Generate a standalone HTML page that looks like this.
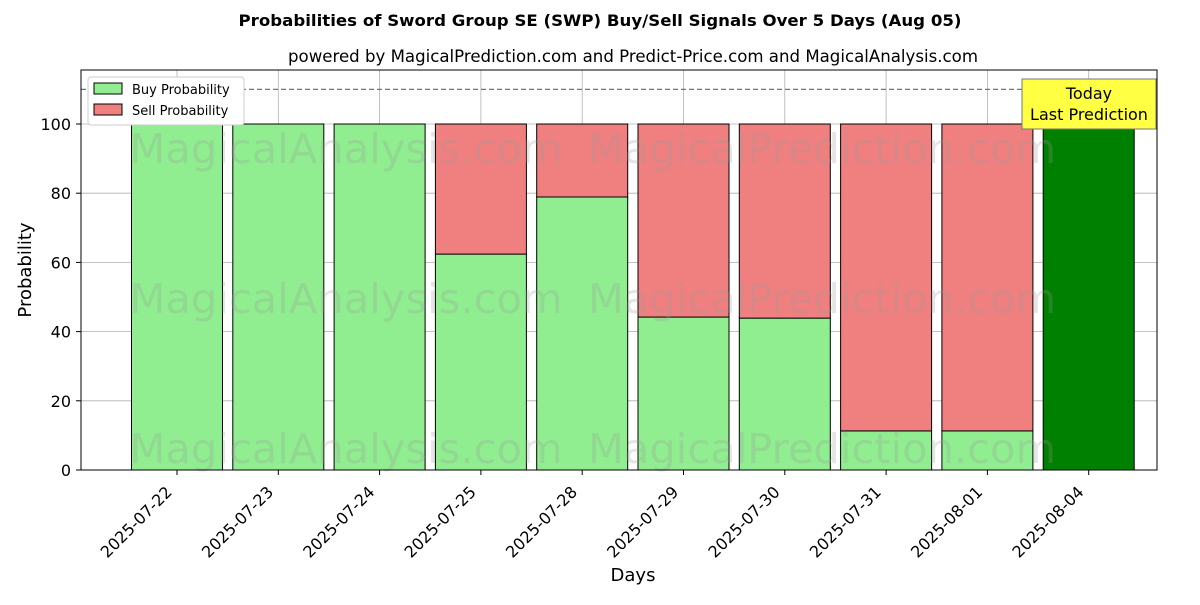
<!DOCTYPE html>
<html><head><meta charset="utf-8"><style>
body{margin:0;background:#fff;font-family:"Liberation Sans","DejaVu Sans",sans-serif;}
</style></head><body>
<svg id="chart" width="1200" height="600" xmlns="http://www.w3.org/2000/svg" font-family="DejaVu Sans, Liberation Sans, sans-serif">
<rect width="1200" height="600" fill="#fff"/>
<text x="600" y="26" text-anchor="middle" font-size="16" font-weight="bold" textLength="723" lengthAdjust="spacingAndGlyphs">Probabilities of Sword Group SE (SWP) Buy/Sell Signals Over 5 Days (Aug 05)</text>
<text x="633" y="62" text-anchor="middle" font-size="16.5" textLength="690" lengthAdjust="spacingAndGlyphs">powered by MagicalPrediction.com and Predict-Price.com and MagicalAnalysis.com</text>
<g id="grid"></g>
<g id="bars"></g>
<g id="wm" font-size="41" fill="#999" opacity="0.25">
<text x="346" y="163" text-anchor="middle" textLength="433" lengthAdjust="spacingAndGlyphs">MagicalAnalysis.com</text>
<text x="822" y="163" text-anchor="middle" textLength="468" lengthAdjust="spacingAndGlyphs">MagicalPrediction.com</text>
<text x="346" y="313" text-anchor="middle" textLength="433" lengthAdjust="spacingAndGlyphs">MagicalAnalysis.com</text>
<text x="822" y="313" text-anchor="middle" textLength="468" lengthAdjust="spacingAndGlyphs">MagicalPrediction.com</text>
<text x="346" y="463" text-anchor="middle" textLength="433" lengthAdjust="spacingAndGlyphs">MagicalAnalysis.com</text>
<text x="822" y="463" text-anchor="middle" textLength="468" lengthAdjust="spacingAndGlyphs">MagicalPrediction.com</text>
</g>
<line id="thr" x1="81" x2="1157" stroke="#777" stroke-dasharray="5,3" stroke-width="1.2"/>
<rect x="81" y="70" width="1076" height="400" fill="none" stroke="#000" stroke-width="1"/>
<g id="axes"></g>
<text x="633" y="581" text-anchor="middle" font-size="18">Days</text>
<text transform="translate(31,270) rotate(-90)" text-anchor="middle" font-size="18">Probability</text>
<g>
<rect x="88" y="77" width="156" height="48" fill="#fff" stroke="#ccc" rx="3"/>
<rect x="94" y="83" width="28" height="11" fill="#90ee90" stroke="#000"/>
<text x="132" y="94" font-size="13">Buy Probability</text>
<rect x="94" y="104" width="28" height="11" fill="#f08080" stroke="#000"/>
<text x="132" y="115" font-size="13">Sell Probability</text>
</g>
<g>
<rect x="1022" y="79" width="134" height="50" fill="#ffff44" stroke="#777"/>
<text x="1089" y="99" text-anchor="middle" font-size="16">Today</text>
<text x="1089" y="120" text-anchor="middle" font-size="16">Last Prediction</text>
</g>
</svg>
<script>
const categories=["2025-07-22","2025-07-23","2025-07-24","2025-07-25","2025-07-28","2025-07-29","2025-07-30","2025-07-31","2025-08-01","2025-08-04"];
const buyValues=[100,100,100,62.4,78.9,44.2,43.9,11.3,11.3,100];
const sellValues=[0,0,0,37.6,21.1,55.8,56.1,88.7,88.7,0];
const yTicks=[0,20,40,60,80,100];
const thresholdValue=110;
const NS="http://www.w3.org/2000/svg";
const y=v=>470-v*3.46;
const x=i=>177+i*101.3;
const bw=91;
function mk(t,a,p){const e=document.createElementNS(NS,t);for(const k in a)e.setAttribute(k,a[k]);p.appendChild(e);return e;}
const grid=document.getElementById('grid'),bars=document.getElementById('bars'),axes=document.getElementById('axes');
yTicks.forEach(v=>{
 const l=mk('line',{x1:81,x2:1157,y1:y(v),y2:y(v),stroke:'#b0b0b0','stroke-width':0.8},grid);
 
 
 mk('line',{x1:76,x2:81,y1:y(v),y2:y(v),stroke:'#000'},axes);
 const t=mk('text',{x:71,y:y(v)+6,'text-anchor':'end','font-size':16},axes);t.textContent=v;
 
 
});
categories.forEach((c,i)=>{
 const g=mk('line',{x1:x(i),x2:x(i),y1:70,y2:470,stroke:'#b0b0b0','stroke-width':0.8},grid);
 
 
 const last=i===categories.length-1;
 const b=mk('rect',{x:x(i)-bw/2,y:y(buyValues[i]),width:bw,height:buyValues[i]*3.46,fill:last?'#008000':'#90ee90',stroke:'#000','stroke-width':1},bars);
 
 
 if(sellValues[i]>0){
  const s=mk('rect',{x:x(i)-bw/2,y:y(buyValues[i]+sellValues[i]),width:bw,height:sellValues[i]*3.46,fill:'#f08080',stroke:'#000','stroke-width':1},bars);
  
  
 }
 mk('line',{x1:x(i),x2:x(i),y1:470,y2:475,stroke:'#000'},axes);
 const t=mk('text',{transform:`translate(${x(i)-4},${493}) rotate(-45)`,'text-anchor':'end','font-size':16},axes);t.textContent=c;
 
 
});
const thr=document.getElementById('thr');thr.setAttribute('y1',y(thresholdValue));thr.setAttribute('y2',y(thresholdValue));
</script>
</body></html>
